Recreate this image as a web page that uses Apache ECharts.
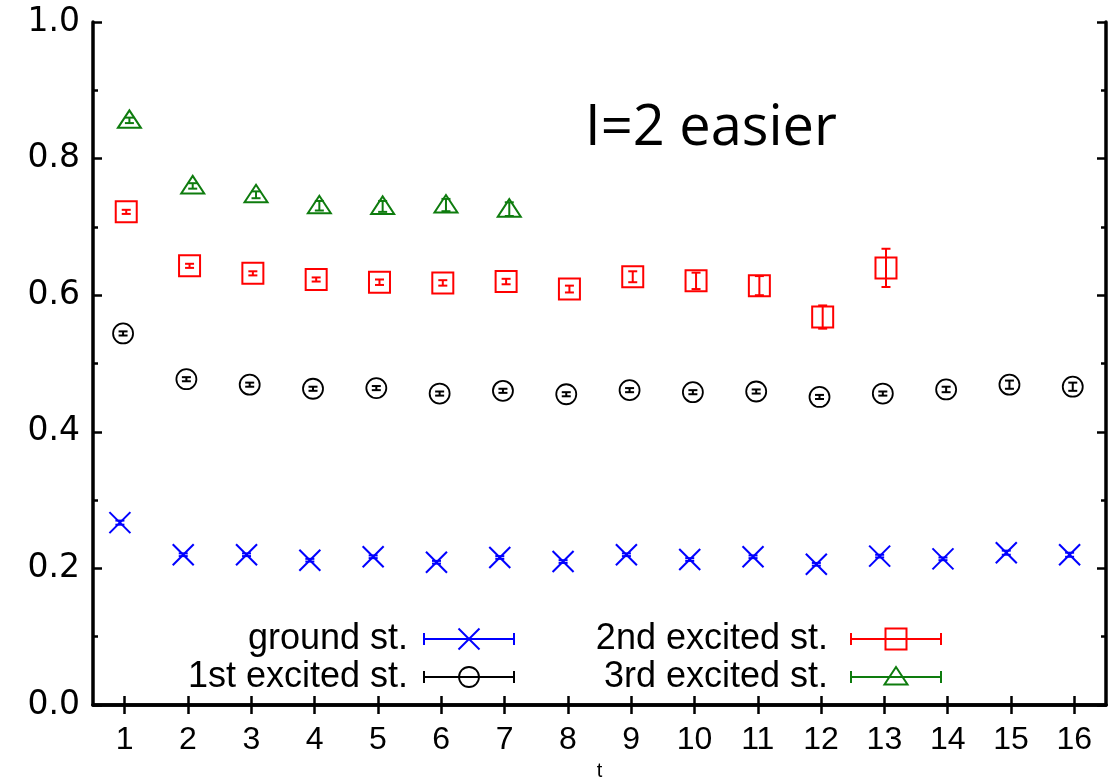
<!DOCTYPE html>
<html>
<head>
<meta charset="utf-8">
<style>
  html, body { margin: 0; padding: 0; background: #ffffff; }
  #chart { width: 1111px; height: 780px; }
</style>
<script src="https://cdn.jsdelivr.net/npm/echarts@6/dist/echarts.min.js"></script>
</head>
<body>
<div id="chart"></div>
<script>
// Time slices
const tLabels = ['1','2','3','4','5','6','7','8','9','10','11','12','13','14','15','16'];
const yTicks = [0, 0.2, 0.4, 0.6, 0.8, 1.0];

// Effective energies and their errors, per state
const groundVal = [0.267,0.220,0.220,0.212,0.217,0.209,0.216,0.210,0.220,0.213,0.217,0.206,0.218,0.214,0.223,0.220];
const groundErr = [0.003,0.002,0.002,0.002,0.002,0.002,0.002,0.002,0.002,0.002,0.002,0.002,0.002,0.002,0.003,0.003];

const firstVal = [0.544,0.477,0.469,0.463,0.464,0.456,0.460,0.455,0.461,0.458,0.459,0.451,0.456,0.462,0.469,0.466];
const firstErr = [0.003,0.003,0.003,0.003,0.003,0.003,0.003,0.003,0.003,0.003,0.003,0.003,0.003,0.004,0.006,0.006];

const secondVal = [0.722,0.643,0.632,0.623,0.619,0.618,0.620,0.609,0.627,0.621,0.614,0.568,0.640];
const secondErr = [0.003,0.003,0.003,0.003,0.004,0.004,0.004,0.005,0.008,0.012,0.014,0.017,0.028];

const thirdVal = [0.856,0.760,0.747,0.731,0.730,0.732,0.726];
const thirdErr = [0.004,0.004,0.005,0.007,0.008,0.009,0.010];

const stateNames = ['ground st.', '1st excited st.', '2nd excited st.', '3rd excited st.'];
const stateColors = ['#0000ff', '#000000', '#ff0000', '#0e7c0e'];

const TEXT_FONT = "'Liberation Sans', Arial, sans-serif";
const NARROW_FONT = "'Liberation Sans Narrow', 'Liberation Sans', sans-serif";

// Symbol shapes (pixel geometry around a centre point)
function symbolShapes(kind, x, y, color) {
  const lw = 2;
  const st = { stroke: color, fill: null, lineWidth: lw };
  if (kind === 'cross') {
    const h = 10.5;
    return [
      { type: 'line', shape: { x1: x - h, y1: y - h, x2: x + h, y2: y + h }, style: st },
      { type: 'line', shape: { x1: x - h, y1: y + h, x2: x + h, y2: y - h }, style: st }
    ];
  }
  if (kind === 'circle') {
    return [{ type: 'circle', shape: { cx: x, cy: y, r: 10 }, style: { stroke: color, fill: null, lineWidth: 1.8 } }];
  }
  if (kind === 'square') {
    const h = 10.5;
    return [{ type: 'rect', shape: { x: x - h, y: y - h, width: 2 * h, height: 2 * h }, style: st }];
  }
  // triangle
  return [{
    type: 'polygon',
    shape: { points: [[x, y - 10], [x - 11.5, y + 7.5], [x + 11.5, y + 7.5]] },
    style: st
  }];
}

// Point with vertical error bar, slightly shifted sideways per state
function makeRenderer(kind, color, shift) {
  return function (params, api) {
    const i = api.value(0), v = api.value(1), e = api.value(2);
    const c = api.coord([i, v]);
    const band = api.size([1, 0])[0];
    const x = c[0] + shift * band;
    const y = c[1];
    const yHi = api.coord([i, v + e])[1];
    const yLo = api.coord([i, v - e])[1];
    const cap = 4.5;
    const barStyle = { stroke: color, lineWidth: 2 };
    const children = [
      { type: 'line', shape: { x1: x, y1: yHi, x2: x, y2: yLo }, style: barStyle },
      { type: 'line', shape: { x1: x - cap, y1: yHi, x2: x + cap, y2: yHi }, style: barStyle },
      { type: 'line', shape: { x1: x - cap, y1: yLo, x2: x + cap, y2: yLo }, style: barStyle }
    ].concat(symbolShapes(kind, x, y, color));
    return { type: 'group', children: children };
  };
}

function toData(vals, errs) {
  return vals.map((v, i) => [i, v, errs[i]]);
}

const seriesDefs = [
  { name: stateNames[0], kind: 'cross',    color: stateColors[0], shift: -0.075, data: toData(groundVal, groundErr) },
  { name: stateNames[1], kind: 'circle',   color: stateColors[1], shift: -0.025, data: toData(firstVal, firstErr) },
  { name: stateNames[2], kind: 'square',   color: stateColors[2], shift: 0.025,  data: toData(secondVal, secondErr) },
  { name: stateNames[3], kind: 'triangle', color: stateColors[3], shift: 0.075,  data: toData(thirdVal, thirdErr) }
];

// Key: label, line with end caps and the state's symbol
function legendEntry(name, kind, color, textRight, x1, x2, y) {
  const xm = (x1 + x2) / 2;
  const ls = { stroke: color, lineWidth: 2 };
  return [
    { type: 'text', x: textRight, y: y, style: { text: name, font: '36px ' + TEXT_FONT, fill: '#000', align: 'right', verticalAlign: 'middle' } },
    { type: 'line', shape: { x1: x1, y1: y, x2: x2, y2: y }, style: ls },
    { type: 'line', shape: { x1: x1, y1: y - 6, x2: x1, y2: y + 6 }, style: ls },
    { type: 'line', shape: { x1: x2, y1: y - 6, x2: x2, y2: y + 6 }, style: ls }
  ].concat(symbolShapes(kind, xm, y, color));
}

const legendGraphics = []
  .concat(legendEntry(stateNames[0], 'cross',    stateColors[0], 408, 424, 514, 639))
  .concat(legendEntry(stateNames[1], 'circle',   stateColors[1], 408, 424, 514, 677))
  .concat(legendEntry(stateNames[2], 'square',   stateColors[2], 828, 851, 941, 639))
  .concat(legendEntry(stateNames[3], 'triangle', stateColors[3], 828, 851, 941, 677));

const frameLine = { show: true, lineStyle: { color: '#000', width: 3.5 } };

const option = {
  backgroundColor: '#ffffff',
  animation: false,
  grid: { left: 93, right: 5, top: 22, bottom: 75, containLabel: false, outerBoundsMode: 'none' },
  xAxis: [
    {
      type: 'category',
      data: tLabels,
      boundaryGap: true,
      position: 'bottom',
      axisLine: frameLine,
      axisTick: { show: true, inside: true, alignWithLabel: true, length: 9, lineStyle: { color: '#000', width: 2.5 } },
      axisLabel: { show: true, color: '#000', fontFamily: NARROW_FONT, fontSize: 32, margin: 19 },
      splitLine: { show: false },
      name: 't',
      nameLocation: 'middle',
      nameGap: 56,
      nameTextStyle: { color: '#000', fontFamily: NARROW_FONT, fontSize: 20 }
    },
    {
      type: 'category',
      data: tLabels,
      boundaryGap: true,
      position: 'top',
      axisLine: frameLine,
      axisTick: { show: true, inside: true, alignWithLabel: true, length: 9, lineStyle: { color: '#000', width: 2.5 } },
      axisLabel: { show: false },
      splitLine: { show: false }
    }
  ],
  yAxis: [
    {
      type: 'value',
      min: yTicks[0],
      max: yTicks[yTicks.length - 1],
      interval: 0.2,
      position: 'left',
      axisLine: frameLine,
      axisTick: { show: true, inside: true, length: 9, lineStyle: { color: '#000', width: 2.5 } },
      minorTick: { show: true, splitNumber: 2, length: 5, lineStyle: { color: '#000', width: 2.5 } },
      axisLabel: {
        show: true, color: '#000', fontFamily: "'DejaVu Sans', sans-serif", fontSize: 33, margin: 13,
        formatter: v => v.toFixed(1)
      },
      splitLine: { show: false }
    },
    {
      type: 'value',
      min: yTicks[0],
      max: yTicks[yTicks.length - 1],
      interval: 0.2,
      position: 'right',
      axisLine: frameLine,
      axisTick: { show: true, inside: true, length: 9, lineStyle: { color: '#000', width: 2.5 } },
      minorTick: { show: true, splitNumber: 2, length: 5, lineStyle: { color: '#000', width: 2.5 } },
      axisLabel: { show: false },
      splitLine: { show: false }
    }
  ],
  series: seriesDefs.map(s => ({
    type: 'custom',
    name: s.name,
    xAxisIndex: 0,
    yAxisIndex: 0,
    clip: false,
    encode: { x: 0, y: 1 },
    data: s.data,
    renderItem: makeRenderer(s.kind, s.color, s.shift)
  })),
  graphic: [
    {
      type: 'text', left: 585, top: 101,
      style: { text: 'I=2 easier', font: "56px 'Open Sans', 'Noto Sans', sans-serif", fill: '#000' }
    }
  ].concat(legendGraphics)
};

const chart = echarts.init(document.getElementById('chart'), null, { renderer: 'canvas' });
chart.setOption(option);
</script>
</body>
</html>
